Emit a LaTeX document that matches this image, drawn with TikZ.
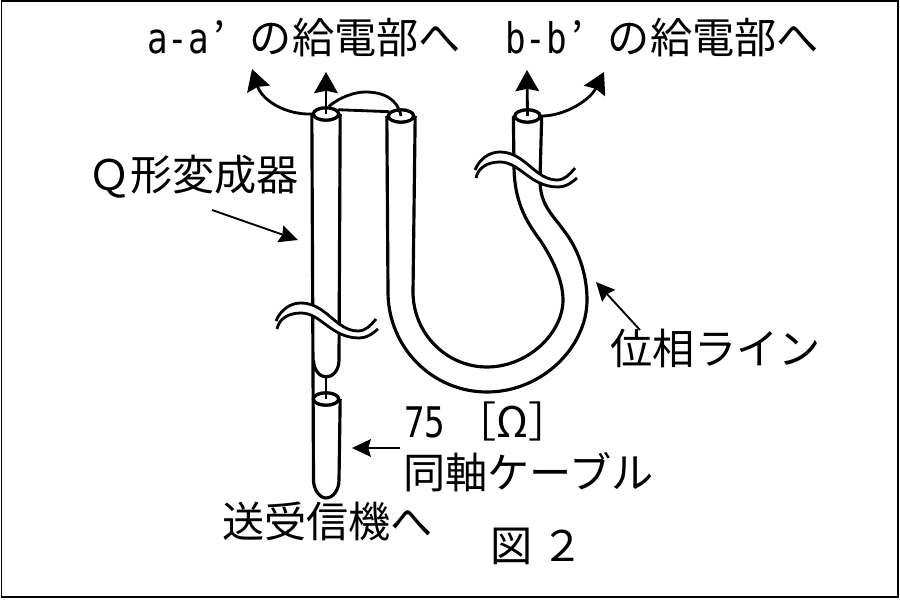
\documentclass[tikz,border=0pt]{standalone}
\usepackage{fontspec}
\setmainfont{Noto Sans CJK JP}
\newfontfamily\halffont[FakeStretch=0.81]{DejaVu Sans Mono}
\usetikzlibrary{arrows.meta,shapes.geometric}

\newcommand{\primemark}{\makebox[35pt][l]{\hspace{4pt}’}}

\tikzset{
  lbl/.style={anchor=west, inner sep=0pt, font=\fontsize{36}{38}\selectfont},
  tubetop/.style={draw, ellipse, fill=white, line width=2.7pt, inner sep=0pt, minimum width=21.5pt, minimum height=10.5pt},
  tube/.style={line width=2.7pt},
  wire/.style={line width=2.4pt},
  bigarrow/.style={line width=2.4pt, -{Stealth[length=18pt,width=20pt,inset=2pt]}},
  thinarrow/.style={line width=1.6pt, -{Stealth[length=16pt,width=15pt,inset=2pt]}},
}

\begin{document}
\begin{tikzpicture}[x=0.03cm, y=-0.03cm]
  \useasboundingbox (0,0) rectangle (900,600);
  \draw[line width=1.7pt] (1.5,1.5) rectangle (897.5,597);

  % tube tops
  \node[tubetop] (qtop) at (326,114) {};
  \node[tubetop] (phtop) at (401,116) {};
  \node[tubetop] (endtop) at (527.5,116) {};
  \node[tubetop] (coaxtop) at (326,399) {};

  % free ends
  \coordinate (qend) at (326,377);
  \coordinate (coaxend) at (326,498);
  \coordinate (a1) at (252,69);
  \coordinate (a2) at (326,72);
  \coordinate (b1) at (527,70);
  \coordinate (b2) at (604,72);

  % tubes
  \draw[tube] (qtop.west) -- (313.5,480) .. controls (313.5,490) and (320,498) .. (coaxend)
     .. controls (333,498) and (339,490) .. (339,480) -- (coaxtop.east);
  \draw[tube] (qtop.east) -- (339,360) .. controls (339,370) and (333,377) .. (qend)
     .. controls (320,377) and (313.5,370) .. (313.5,360);
  \draw[tube] (phtop.west) -- (388,292) .. controls (388,347) and (432,392) .. (487,392)
     .. controls (542,392) and (587,347) .. (587,300) .. controls (587,272) and (577,248) .. (565,232)
     .. controls (552,214) and (540,205) .. (540,180) -- (endtop.east);
  \draw[tube] (phtop.east) -- (413,292) .. controls (413,333) and (446,367) .. (487,367)
     .. controls (528,367) and (563,333) .. (563,300) .. controls (563,280) and (552,258) .. (540,240)
     .. controls (525,220) and (514,200) .. (514,165) -- (endtop.west);
  \node[tubetop] at (qtop) {};
  \node[tubetop] at (phtop) {};
  \node[tubetop] at (endtop) {};
  \node[tubetop] at (coaxtop) {};

  % wires
  \draw[wire] (qend) -- (coaxtop.center);
  \draw[wire] (qtop.20) -- (phtop.160);
  \draw[wire] (qtop.70) .. controls (340,97) and (355,92) .. (365,92) .. controls (385,92) and (398,100) .. (phtop.center);

  % breaks
  \foreach \bx/\by in {0/0, -199/151}{
    \begin{scope}[shift={(\bx,\by)}]
      \fill[white] (475,170) .. controls (480,158) and (490,152) .. (500,152)
        .. controls (525,152) and (535,180) .. (557,180) .. controls (565,180) and (570,174) .. (575,168)
        -- (577,178) .. controls (570,184) and (565,187) .. (558,187)
        .. controls (530,187) and (520,162) .. (500,162) .. controls (487,162) and (478,168) .. (476,178) -- cycle;
      \draw[wire] (475,170) .. controls (480,158) and (490,152) .. (500,152)
        .. controls (525,152) and (535,180) .. (557,180) .. controls (565,180) and (570,174) .. (575,168);
      \draw[wire] (476,178) .. controls (478,168) and (487,162) .. (500,162)
        .. controls (520,162) and (530,187) .. (558,187) .. controls (565,187) and (570,184) .. (577,178);
    \end{scope}
  }

  % labels
  \node[lbl] (feeda) at (147,38) {{\halffont a-a}\primemark の給電部へ};
  \node[lbl] (feedb) at (505,38) {{\halffont b-b}\primemark の給電部へ};
  \node[lbl] (qlabel) at (88,177) {Ｑ形変成器};
  \node[lbl] (phlabel) at (610,348) {位相ライン};
  \node[lbl] (ohm) at (404,421) {{\halffont 75}\hspace{8pt}［Ω］};
  \node[lbl] (coaxlabel) at (403,472) {同軸ケーブル};
  \node[lbl] (tx) at (222,521) {送受信機へ};
  \node[lbl] (fig) at (490,546) {図\hspace{8pt}２};

  % arrows
  \coordinate (qfrom) at (212,210);
  \coordinate (qto) at (298,240);
  \coordinate (ohmfrom) at (400,448);
  \coordinate (ohmto) at (352,448);
  \coordinate (phfrom) at (640,330);
  \coordinate (phto) at (596,282);
  \draw[bigarrow] (qtop.center) -- (a2);
  \draw[bigarrow] (qtop.west) .. controls (285,115) and (262,100) .. (a1);
  \draw[bigarrow] (endtop.center) -- (b1);
  \draw[bigarrow] (endtop.east) .. controls (565,116) and (590,100) .. (b2);
  \draw[thinarrow] (qfrom) -- (qto);
  \draw[thinarrow] (ohmfrom) -- (ohmto);
  \draw[thinarrow] (phfrom) -- (phto);
\end{tikzpicture}
\end{document}
